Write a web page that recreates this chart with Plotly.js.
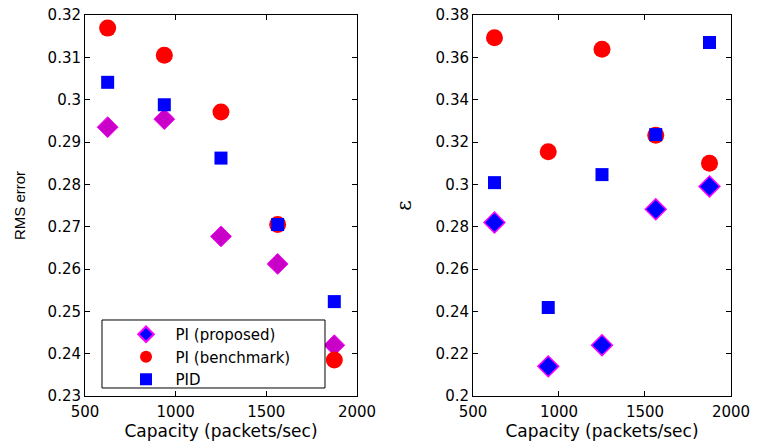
<!DOCTYPE html>
<html>
<head>
<meta charset="utf-8">
<script src="https://cdn.plot.ly/plotly-3.0.1.min.js"></script>
<style>html,body{margin:0;padding:0;background:#fff;}#chart{width:757px;height:441px;}</style>
</head>
<body>
<div id="chart"></div>
<script>
const capacity = [625, 937.5, 1250, 1562.5, 1875];
const seriesNames = ["PI (proposed)", "PI (benchmark)", "PID"];
const rmsProposed = [0.2935, 0.2954, 0.2677, 0.2612, 0.2420];
const rmsBenchmark = [0.3169, 0.3105, 0.2971, 0.2705, 0.2385];
const rmsPID = [0.3041, 0.2988, 0.2862, 0.2705, 0.2523];
const epsProposed = [0.2820, 0.2140, 0.2240, 0.2882, 0.2990];
const epsBenchmark = [0.3693, 0.3154, 0.3638, 0.3232, 0.3100];
const epsPID = [0.3008, 0.2418, 0.3046, 0.3235, 0.3670];
const xTicks = [500, 1000, 1500, 2000];
const rmsTicks = [0.23, 0.24, 0.25, 0.26, 0.27, 0.28, 0.29, 0.30, 0.31, 0.32];
const rmsTickText = ["0.23", "0.24", "0.25", "0.26", "0.27", "0.28", "0.29", "0.3", "0.31", "0.32"];
const epsTicks = [0.2, 0.22, 0.24, 0.26, 0.28, 0.30, 0.32, 0.34, 0.36, 0.38];
const epsTickText = ["0.2", "0.22", "0.24", "0.26", "0.28", "0.3", "0.32", "0.34", "0.36", "0.38"];

const pad = "\u00a0\u00a0";
const diamondLeft = {symbol: "diamond", size: 16, color: "#c800c8", line: {color: "#ff00ff", width: 1}};
const diamondRight = {symbol: "diamond", size: 16, color: "#0000ff", line: {color: "#ff00ff", width: 1.5}};
const circle = {symbol: "circle", size: 17, color: "#ff0000", line: {width: 0}};
const square = {symbol: "square", size: 13, color: "#0000ff", line: {width: 0}};

const traces = [
  {x: capacity, y: rmsProposed, type: "scatter", mode: "markers", marker: diamondLeft, xaxis: "x", yaxis: "y", showlegend: false, name: seriesNames[0]},
  {x: capacity, y: rmsBenchmark, type: "scatter", mode: "markers", marker: circle, xaxis: "x", yaxis: "y", showlegend: false, name: seriesNames[1]},
  {x: capacity, y: rmsPID, type: "scatter", mode: "markers", marker: square, xaxis: "x", yaxis: "y", showlegend: false, name: seriesNames[2]},
  {x: capacity, y: epsProposed, type: "scatter", mode: "markers", marker: diamondRight, xaxis: "x2", yaxis: "y2", name: pad + seriesNames[0]},
  {x: capacity, y: epsBenchmark, type: "scatter", mode: "markers", marker: circle, xaxis: "x2", yaxis: "y2", name: pad + seriesNames[1]},
  {x: capacity, y: epsPID, type: "scatter", mode: "markers", marker: square, xaxis: "x2", yaxis: "y2", name: pad + seriesNames[2]}
];

const fam = "DejaVu Sans, Liberation Sans, Arial, sans-serif";
const axBase = {
  showgrid: false, zeroline: false, showline: true, linecolor: "#000", linewidth: 1,
  mirror: "allticks", ticks: "inside", ticklen: 5, tickcolor: "#000",
  tickfont: {family: fam, size: 15, color: "#000"}
};

const layout = {
  width: 757, height: 441,
  margin: {l: 85, r: 26, t: 15, b: 45},
  paper_bgcolor: "#fff", plot_bgcolor: "#fff",
  font: {family: fam, size: 15, color: "#000"},
  showlegend: true,
  legend: {
    x: 0.0635, y: 0.2047, xref: "paper", yref: "paper", xanchor: "left", yanchor: "top",
    bgcolor: "rgba(0,0,0,0)", borderwidth: 0,
    font: {family: fam, size: 15, color: "#000"},
    tracegroupgap: 0, itemsizing: "constant"
  },
  shapes: [{
    type: "rect", xref: "paper", yref: "paper", layer: "above",
    x0: 0.0263, x1: 0.3715, y0: 0.021, y1: 0.1995,
    line: {color: "#000", width: 1}, fillcolor: "#fff"
  }],
  xaxis: Object.assign({}, axBase, {
    domain: [0, 0.421], range: [500, 2000], tickvals: xTicks, anchor: "y", ticklabelstandoff: 2,
    title: {text: "Capacity (packets/sec)", font: {family: fam, size: 17, color: "#000"}, standoff: 0}
  }),
  yaxis: Object.assign({}, axBase, {
    domain: [0, 1], range: [0.23, 0.32], tickvals: rmsTicks, ticktext: rmsTickText, anchor: "x",
    title: {text: "RMS error", font: {family: "Liberation Sans, Arial, sans-serif", size: 15, color: "#000"}, standoff: 18}
  }),
  xaxis2: Object.assign({}, axBase, {
    domain: [0.6006, 1], range: [500, 2000], tickvals: xTicks, anchor: "y2", ticklabelstandoff: 2,
    title: {text: "Capacity (packets/sec)", font: {family: fam, size: 17, color: "#000"}, standoff: 0}
  }),
  yaxis2: Object.assign({}, axBase, {
    domain: [0, 1], range: [0.2, 0.38], tickvals: epsTicks, ticktext: epsTickText, anchor: "x2",
    title: {text: "ε", font: {family: "DejaVu Serif, serif", size: 20, color: "#000"}, standoff: 18}
  })
};

Plotly.newPlot("chart", traces, layout, {displayModeBar: false, staticPlot: true});
</script>
</body>
</html>
